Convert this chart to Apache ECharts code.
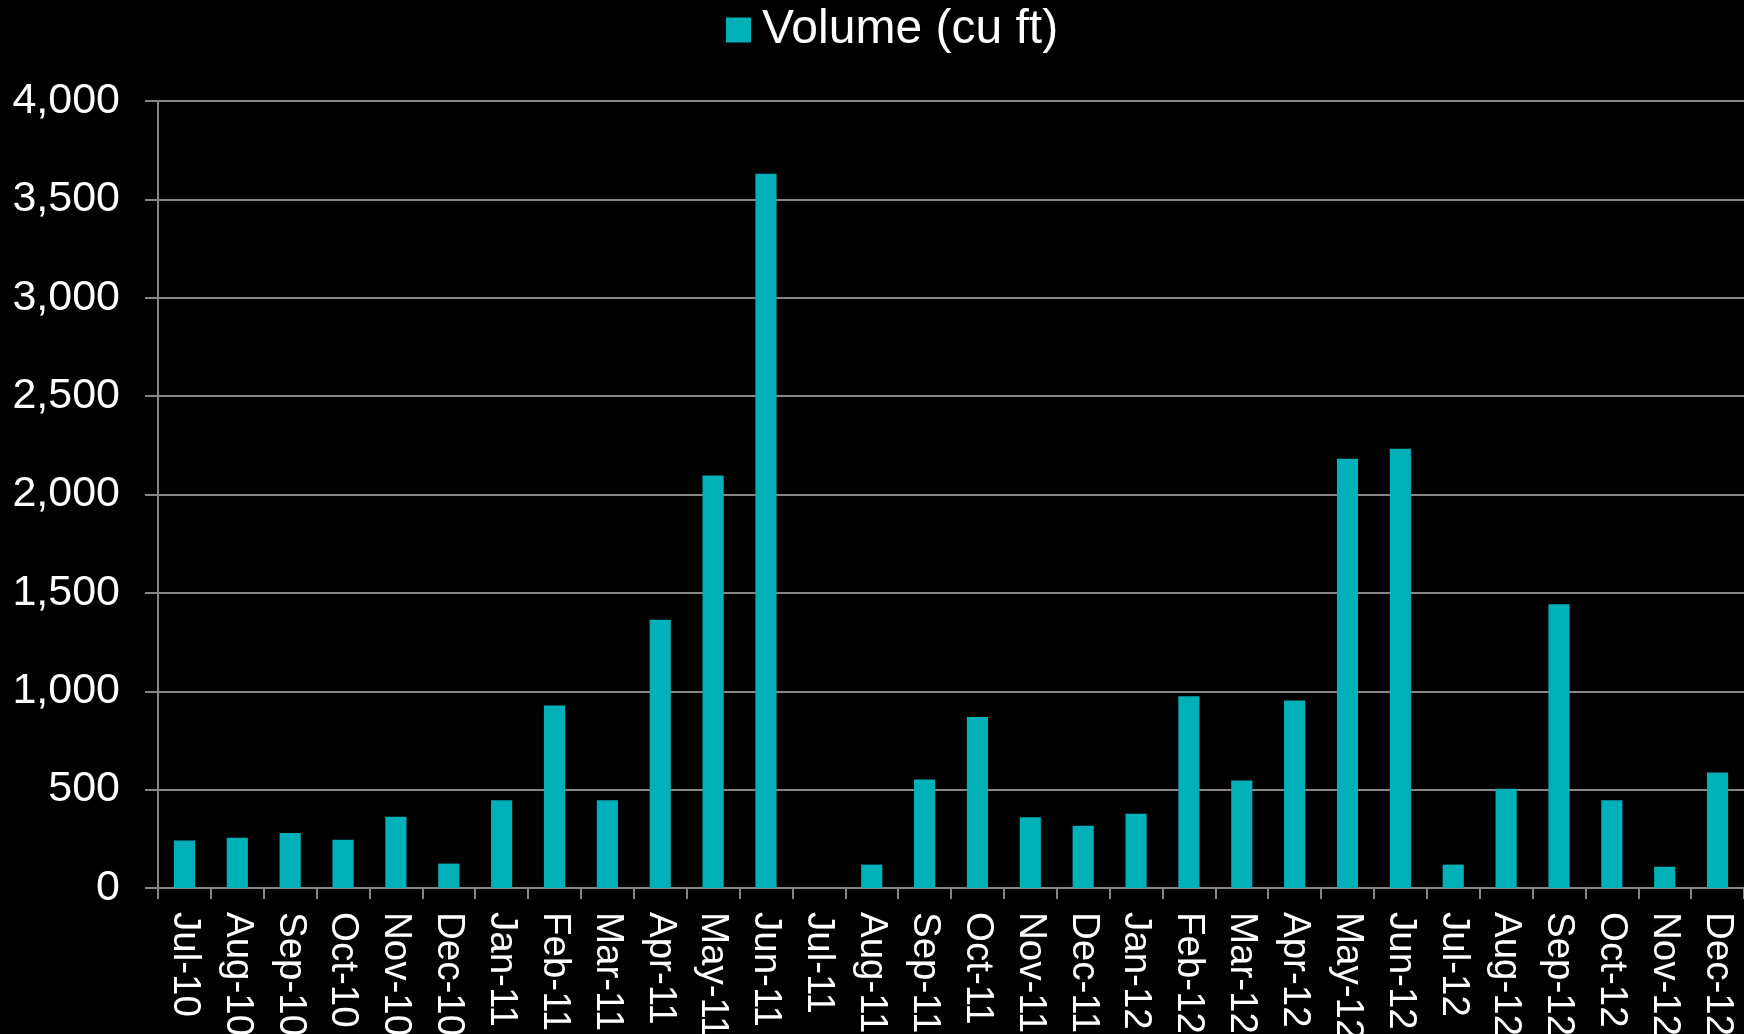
<!DOCTYPE html>
<html>
<head>
<meta charset="utf-8">
<script src="https://cdn.jsdelivr.net/npm/echarts@6/dist/echarts.min.js"></script>
<style>
html,body{margin:0;padding:0;background:#000;}
#chart{width:1744px;height:1034px;}
</style>
</head>
<body>
<div id="chart"></div>
<script>
const categories = ["Jul-10","Aug-10","Sep-10","Oct-10","Nov-10","Dec-10","Jan-11","Feb-11","Mar-11","Apr-11","May-11","Jun-11","Jul-11","Aug-11","Sep-11","Oct-11","Nov-11","Dec-11","Jan-12","Feb-12","Mar-12","Apr-12","May-12","Jun-12","Jul-12","Aug-12","Sep-12","Oct-12","Nov-12","Dec-12"];
const seriesName = "Volume (cu ft)";
const volume = [241,256,280,245,362,124,446,927,446,1364,2096,3630,0,119,551,869,360,316,377,975,546,953,2182,2233,119,504,1442,446,108,587];
const yMin = 0, yMax = 4000, yStep = 500;

const chart = echarts.init(document.getElementById('chart'), null, {renderer:'canvas'});
const font = "'Liberation Sans', Arial, sans-serif";
chart.setOption({
  backgroundColor: '#000',
  animation: false,
  legend: {
    data: [seriesName],
    left: 726, top: 5, padding: 0,
    icon: 'rect', itemWidth: 25, itemHeight: 25, itemGap: 10,
    textStyle: {color: '#fff', fontSize: 48, fontFamily: font, lineHeight: 50, padding: [0,0,0,6]}
  },
  grid: {left: 158, right: 0, top: 101, bottom: 146, containLabel: false, outerBoundsMode: 'none'},
  xAxis: {
    type: 'category',
    data: categories,
    boundaryGap: true,
    axisLine: {lineStyle: {color: '#868686', width: 2}},
    axisTick: {show: true, alignWithLabel: false, length: 11, lineStyle: {color: '#868686', width: 2}},
    axisLabel: {interval: 0, rotate: -90, margin: 24, color: '#fff', fontSize: 38.5, fontFamily: font}
  },
  yAxis: {
    type: 'value',
    min: yMin, max: yMax, interval: yStep,
    axisLine: {show: true, lineStyle: {color: '#868686', width: 2}},
    axisTick: {show: true, length: 13, lineStyle: {color: '#868686', width: 2}},
    splitLine: {show: true, lineStyle: {color: '#868686', width: 2}},
    axisLabel: {color: '#fff', fontSize: 43, fontFamily: font, margin: 38,
      formatter: v => v.toLocaleString('en-US')}
  },
  series: [{
    name: seriesName,
    type: 'bar',
    data: volume,
    barWidth: '40%',
    itemStyle: {color: '#00B0B9', borderWidth: 0}
  }]
});
</script>
</body>
</html>
